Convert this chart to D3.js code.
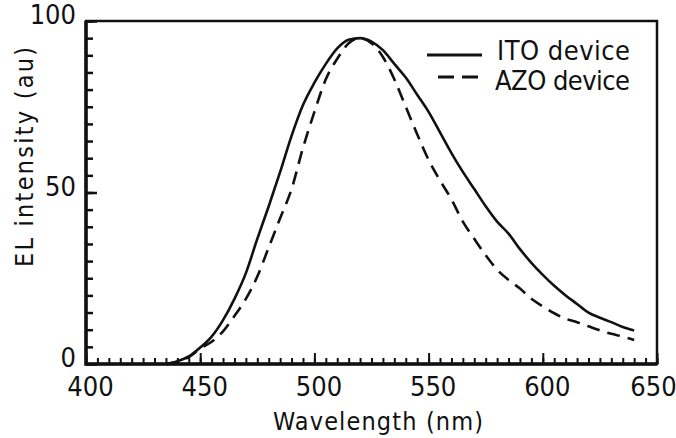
<!DOCTYPE html>
<html>
<head>
<meta charset="utf-8">
<script src="https://cdn.jsdelivr.net/npm/d3@7"></script>
<style>
  body { margin: 0; background: #fff; }
  svg { display: block; }
  text { font-family: "DejaVu Sans Condensed", "DejaVu Sans", sans-serif; font-stretch: condensed; fill: #111; }
</style>
</head>
<body>
<div id="chart"></div>
<script>
// Wavelength samples (nm)
const wavelengths = [435, 440, 445, 450, 455, 460, 465, 470, 475, 480, 485, 490, 495, 500,
  505, 510, 515, 520, 525, 530, 535, 540, 545, 550, 555, 560, 565, 570, 575, 580, 585, 590,
  595, 600, 605, 610, 615, 620, 625, 630, 635, 640];

// EL intensity, ITO device (solid)
const itoValues = [0, 0.8, 2.2, 4.8, 8, 12.8, 19, 26.5, 36.5, 46, 56, 66.5, 75.5, 82,
  87.5, 92, 94.5, 95, 94, 91.5, 87.5, 83.5, 78.5, 73.5, 67.5, 61.5, 56, 51, 46, 41.5, 38, 33.5,
  29.5, 26, 22.8, 20, 17.5, 15, 13.5, 12.2, 10.8, 9.8];

// EL intensity, AZO device (dashed)
const azoValues = [0, 0.6, 2, 4.5, 6.5, 9.5, 14, 19, 25.5, 34, 42.5, 51, 63, 73.5,
  83, 89, 93.5, 95, 93.5, 89.5, 83, 75, 67, 59.5, 53.5, 48, 41.5, 36.5, 31.7, 27.5, 24.5, 22,
  19, 16.8, 14.8, 13.2, 12.2, 11, 9.8, 8.8, 8, 7];

const xTickLabels = [400, 450, 500, 550, 600, 650];
const yTickLabels = [0, 50, 100];
const seriesNames = ["ITO device", "AZO device"];

const width = 676;
const height = 438;
const margin = { top: 21, right: 19, bottom: 74, left: 86 };

const svg = d3
  .select("#chart")
  .append("svg")
  .attr("width", width)
  .attr("height", height);

const x = d3.scaleLinear().domain([400, 650]).range([margin.left, width - margin.right]);
const y = d3.scaleLinear().domain([0, 100]).range([height - margin.bottom, margin.top]);

// minor ticks, x (every 5 nm, pointing inward)
svg
  .append("g")
  .attr("transform", `translate(0,${y(0)})`)
  .call(d3.axisBottom(x).tickValues(d3.range(400, 651, 5)).tickSize(-6).tickFormat(""))
  .call((g) => g.select(".domain").remove())
  .call((g) => g.selectAll("line").attr("stroke", "#111").attr("stroke-width", 2));

// major ticks + labels, x
svg
  .append("g")
  .attr("transform", `translate(0,${y(0)})`)
  .call(d3.axisBottom(x).tickValues(xTickLabels).tickSize(-11).tickPadding(13))
  .call((g) => g.select(".domain").remove())
  .call((g) => g.selectAll("line").attr("stroke", "#111").attr("stroke-width", 2))
  .call((g) =>
    g
      .selectAll("text")
      .attr("font-size", 27)
      .attr("font-family", null)
      .attr("fill", "#111")
      .attr("dx", (d) => (d === 650 ? -4 : 4))
  );

// minor ticks, y
svg
  .append("g")
  .attr("transform", `translate(${x(400)},0)`)
  .call(d3.axisLeft(y).tickValues(d3.range(0, 101, 5)).tickSize(-7).tickFormat(""))
  .call((g) => g.select(".domain").remove())
  .call((g) => g.selectAll("line").attr("stroke", "#111").attr("stroke-width", 2.5));

// major ticks + labels, y
svg
  .append("g")
  .attr("transform", `translate(${x(400)},0)`)
  .call(d3.axisLeft(y).tickValues(yTickLabels).tickSize(-11).tickPadding(10))
  .call((g) => g.select(".domain").remove())
  .call((g) => g.selectAll("line").attr("stroke", "#111").attr("stroke-width", 2.5))
  .call((g) =>
    g
      .selectAll("text")
      .attr("font-size", 27)
      .attr("font-family", null)
      .attr("fill", "#111")
      .attr("dy", "0.1em")
  );

// frame
svg
  .append("rect")
  .attr("x", x(400))
  .attr("y", y(100))
  .attr("width", x(650) - x(400))
  .attr("height", y(0) - y(100))
  .attr("fill", "none")
  .attr("stroke", "#111")
  .attr("stroke-width", 2.5);

svg
  .append("path")
  .attr("d", `M${x(400)},${y(100)}V${y(0)}H${x(650)}`)
  .attr("fill", "none")
  .attr("stroke", "#111")
  .attr("stroke-width", 3.5);

// curves
const line = (vals) =>
  d3
    .line()
    .x((d, i) => x(wavelengths[i]))
    .y((d) => y(d))
    .curve(d3.curveMonotoneX)(vals);

svg
  .append("path")
  .attr("d", line(itoValues))
  .attr("fill", "none")
  .attr("stroke", "#111")
  .attr("stroke-width", 2.6);

svg
  .append("path")
  .attr("d", line(azoValues))
  .attr("fill", "none")
  .attr("stroke", "#111")
  .attr("stroke-width", 2.6)
  .attr("stroke-dasharray", "13,8");

// legend
const legend = svg.append("g");
legend
  .append("line")
  .attr("x1", 427)
  .attr("x2", 482)
  .attr("y1", 55)
  .attr("y2", 55)
  .attr("stroke", "#111")
  .attr("stroke-width", 3);
legend
  .append("line")
  .attr("x1", 438)
  .attr("x2", 484)
  .attr("y1", 77)
  .attr("y2", 77)
  .attr("stroke", "#111")
  .attr("stroke-width", 3)
  .attr("stroke-dasharray", "16,8");
legend
  .append("text")
  .attr("x", 497)
  .attr("y", 60)
  .attr("font-size", 27)
  .attr("textLength", 133)
  .attr("lengthAdjust", "spacing")
  .text(seriesNames[0]);
legend
  .append("text")
  .attr("x", 495)
  .attr("y", 90)
  .attr("font-size", 27)
  .attr("textLength", 135)
  .attr("lengthAdjust", "spacing")
  .text(seriesNames[1]);

// axis titles
svg
  .append("text")
  .attr("x", 378)
  .attr("y", 430)
  .attr("text-anchor", "middle")
  .attr("font-size", 25)
  .attr("textLength", 210)
  .attr("lengthAdjust", "spacing")
  .text("Wavelength (nm)");

svg
  .append("text")
  .attr("transform", "translate(33,157) rotate(-90)")
  .attr("text-anchor", "middle")
  .attr("font-size", 25)
  .attr("textLength", 220)
  .attr("lengthAdjust", "spacing")
  .text("EL intensity (au)");
</script>
</body>
</html>
